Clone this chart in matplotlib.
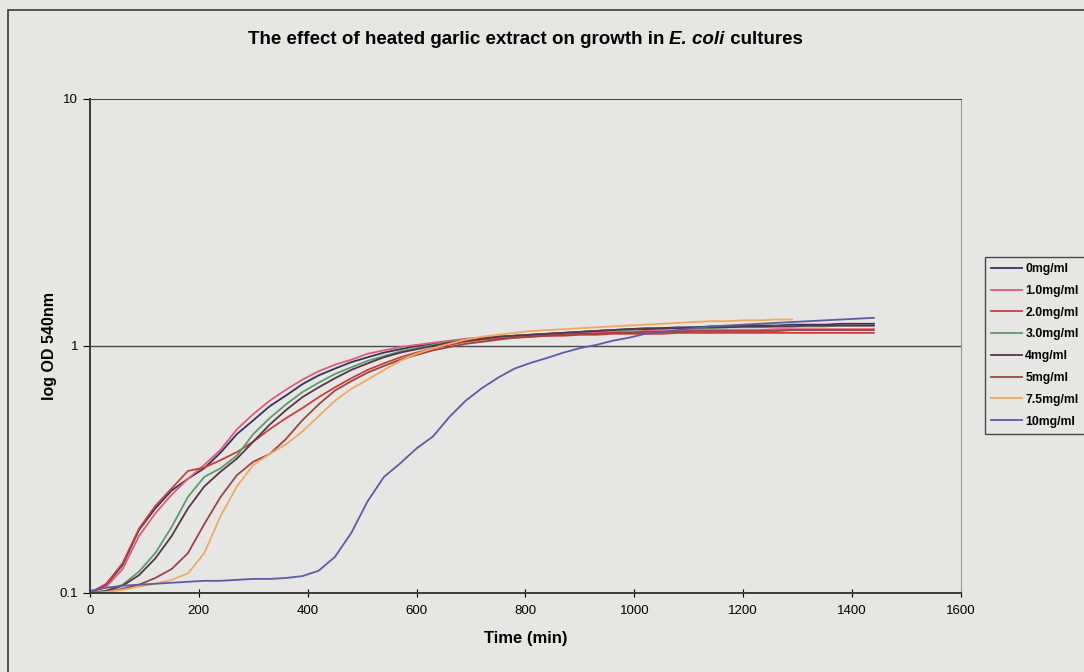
import matplotlib.pyplot as plt
import matplotlib.patches as patches
import numpy as np

plt.rcParams['font.family'] = ['Liberation Sans', 'DejaVu Sans']

# time points (min)
time = np.arange(0, 1441, 30)

od_0 = [0.100, 0.108, 0.130, 0.180, 0.220, 0.260, 0.290, 0.320, 0.370, 0.440,
        0.500, 0.570, 0.630, 0.700, 0.760, 0.810, 0.860, 0.900, 0.940, 0.970,
        1.000, 1.020, 1.040, 1.060, 1.080, 1.090, 1.100, 1.110, 1.120, 1.130,
        1.140, 1.150, 1.160, 1.170, 1.180, 1.180, 1.190, 1.190, 1.200, 1.200,
        1.210, 1.210, 1.210, 1.220, 1.220, 1.220, 1.230, 1.230, 1.230]
od_1 = [0.100, 0.106, 0.125, 0.170, 0.210, 0.250, 0.290, 0.330, 0.380, 0.460,
        0.530, 0.600, 0.665, 0.730, 0.790, 0.840, 0.880, 0.930, 0.960, 0.990,
        1.010, 1.030, 1.050, 1.070, 1.080, 1.090, 1.100, 1.110, 1.120, 1.120,
        1.130, 1.130, 1.140, 1.140, 1.150, 1.150, 1.150, 1.160, 1.160, 1.160,
        1.160, 1.160, 1.170, 1.170, 1.170, 1.170, 1.170, 1.170, 1.170]
od_2 = [0.100, 0.109, 0.132, 0.182, 0.225, 0.265, 0.312, 0.322, 0.345, 0.372,
        0.410, 0.460, 0.510, 0.560, 0.620, 0.680, 0.740, 0.800, 0.850, 0.900,
        0.940, 0.980, 1.010, 1.040, 1.060, 1.070, 1.080, 1.090, 1.100, 1.100,
        1.110, 1.110, 1.120, 1.120, 1.120, 1.120, 1.130, 1.130, 1.130, 1.130,
        1.130, 1.130, 1.130, 1.130, 1.130, 1.130, 1.130, 1.130, 1.130]
od_3 = [0.100, 0.102, 0.108, 0.122, 0.145, 0.185, 0.245, 0.295, 0.320, 0.360,
        0.440, 0.510, 0.580, 0.650, 0.710, 0.770, 0.820, 0.870, 0.910, 0.950,
        0.980, 1.010, 1.040, 1.060, 1.080, 1.090, 1.100, 1.110, 1.120, 1.130,
        1.140, 1.150, 1.160, 1.160, 1.170, 1.170, 1.180, 1.180, 1.180, 1.190,
        1.190, 1.190, 1.200, 1.200, 1.200, 1.200, 1.210, 1.210, 1.210]
od_4 = [0.100, 0.102, 0.107, 0.118, 0.138, 0.170, 0.220, 0.270, 0.310, 0.350,
        0.410, 0.480, 0.550, 0.620, 0.680, 0.740, 0.800, 0.850, 0.900, 0.940,
        0.970, 1.000, 1.030, 1.050, 1.070, 1.090, 1.100, 1.110, 1.120, 1.130,
        1.140, 1.150, 1.160, 1.170, 1.170, 1.180, 1.180, 1.190, 1.190, 1.190,
        1.200, 1.200, 1.200, 1.200, 1.210, 1.210, 1.210, 1.210, 1.210]
od_5 = [0.100, 0.101, 0.104, 0.108, 0.115, 0.125, 0.145, 0.190, 0.245, 0.300,
        0.340, 0.365, 0.420, 0.500, 0.580, 0.660, 0.720, 0.780, 0.830, 0.880,
        0.920, 0.960, 0.990, 1.020, 1.040, 1.060, 1.080, 1.090, 1.100, 1.110,
        1.120, 1.120, 1.130, 1.130, 1.140, 1.140, 1.140, 1.150, 1.150, 1.150,
        1.150, 1.150, 1.150, 1.160, 1.160, 1.160, 1.160, 1.160, 1.160]
od_75 = [0.100, 0.101, 0.103, 0.106, 0.109, 0.113, 0.120, 0.145, 0.205, 0.270,
         0.330, 0.365, 0.400, 0.450, 0.520, 0.600, 0.670, 0.730, 0.800, 0.870,
         0.930, 0.980, 1.020, 1.060, 1.090, 1.110, 1.130, 1.150, 1.160, 1.170,
         1.180, 1.190, 1.200, 1.210, 1.220, 1.230, 1.240, 1.250, 1.260, 1.260,
         1.270, 1.270, 1.280, 1.280, np.nan, np.nan, np.nan, np.nan, np.nan]
od_10 = [0.102, 0.105, 0.107, 0.108, 0.109, 0.110, 0.111, 0.112, 0.112, 0.113,
         0.114, 0.114, 0.115, 0.117, 0.123, 0.140, 0.175, 0.235, 0.295, 0.335,
         0.385, 0.430, 0.515, 0.600, 0.675, 0.745, 0.810, 0.855, 0.895, 0.940,
         0.980, 1.010, 1.050, 1.080, 1.120, 1.140, 1.160, 1.180, 1.200, 1.210,
         1.220, 1.230, 1.240, 1.250, 1.260, 1.270, 1.280, 1.290, 1.300]

labels = ['0mg/ml', '1.0mg/ml', '2.0mg/ml', '3.0mg/ml', '4mg/ml', '5mg/ml',
          '7.5mg/ml', '10mg/ml']
series = [od_0, od_1, od_2, od_3, od_4, od_5, od_75, od_10]
colors = ['#34345e', '#e05a78', '#c8403c', '#5e9a6c', '#5a3448', '#9c4444',
          '#f2a860', '#5c5ca4']

bg = '#e6e6e4'
fig = plt.figure(figsize=(10.84, 6.72), dpi=100, facecolor=bg)
ax = fig.add_axes([0.083, 0.1176, 0.8035, 0.7351])
ax.set_facecolor(bg)

for y, c, lab in zip(series, colors, labels):
    ax.plot(time, y, color=c, linewidth=1.3, label=lab)

ax.set_yscale('log')
ax.set_xlim(0, 1600)
ax.set_ylim(0.1, 10)
ax.set_xticks(range(0, 1601, 200))
ax.set_yticks([0.1, 1, 10])
ax.set_yticklabels(['0.1', '1', '10'])
ax.minorticks_off()
ax.axhline(1, color='#4a4a4a', linewidth=1.0, zorder=0)
ax.tick_params(axis='x', direction='inout', length=6, labelsize=9.5, pad=6)
ax.tick_params(axis='y', direction='out', length=5, labelsize=9.5)
for s in ['left', 'bottom']:
    ax.spines[s].set_color('#3a3a3a')
    ax.spines[s].set_linewidth(1.4)
ax.spines['top'].set_color('#4a4a4a')
ax.spines['right'].set_color('#9a9a9a')

ax.set_xlabel('Time (min)', fontsize=12, fontweight='bold', labelpad=10)
ax.set_ylabel('log OD 540nm', fontsize=11.5, fontweight='bold')
ax.yaxis.set_label_coords(-0.038, 0.5)

# title with italic E. coli
fig.canvas.draw()
r = fig.canvas.get_renderer()
parts = [('The effect of heated garlic extract on growth in ', 'normal'),
         ('E. coli', 'italic'), (' cultures', 'normal')]
objs = []
for txt, st in parts:
    objs.append(fig.text(0, 1 - 40 / 672, txt, fontsize=13.5, fontweight='bold',
                         fontstyle=st, ha='left', va='center'))
widths = [o.get_window_extent(r).width for o in objs]
x0 = 525 - sum(widths) / 2
for o, w in zip(objs, widths):
    o.set_x(x0 / 1084)
    x0 += w

# chart frame
fig.patches.append(patches.Rectangle((8 / 1084, -0.1), 1.2, 1.1 - 10 / 672,
                                     transform=fig.transFigure, fill=False,
                                     edgecolor='#3a3a3a', linewidth=1.2))

leg = fig.legend(loc='upper left', bbox_to_anchor=(985 / 1084, 1 - 257 / 672),
                 fontsize=8.8, frameon=True, fancybox=False, edgecolor='#222222',
                 facecolor=bg, handlelength=2.5, handletextpad=0.3,
                 labelspacing=0.8, borderpad=0.5, borderaxespad=0)
for t in leg.get_texts():
    t.set_fontweight('bold')

plt.savefig('out.png', dpi=100, facecolor=bg)
